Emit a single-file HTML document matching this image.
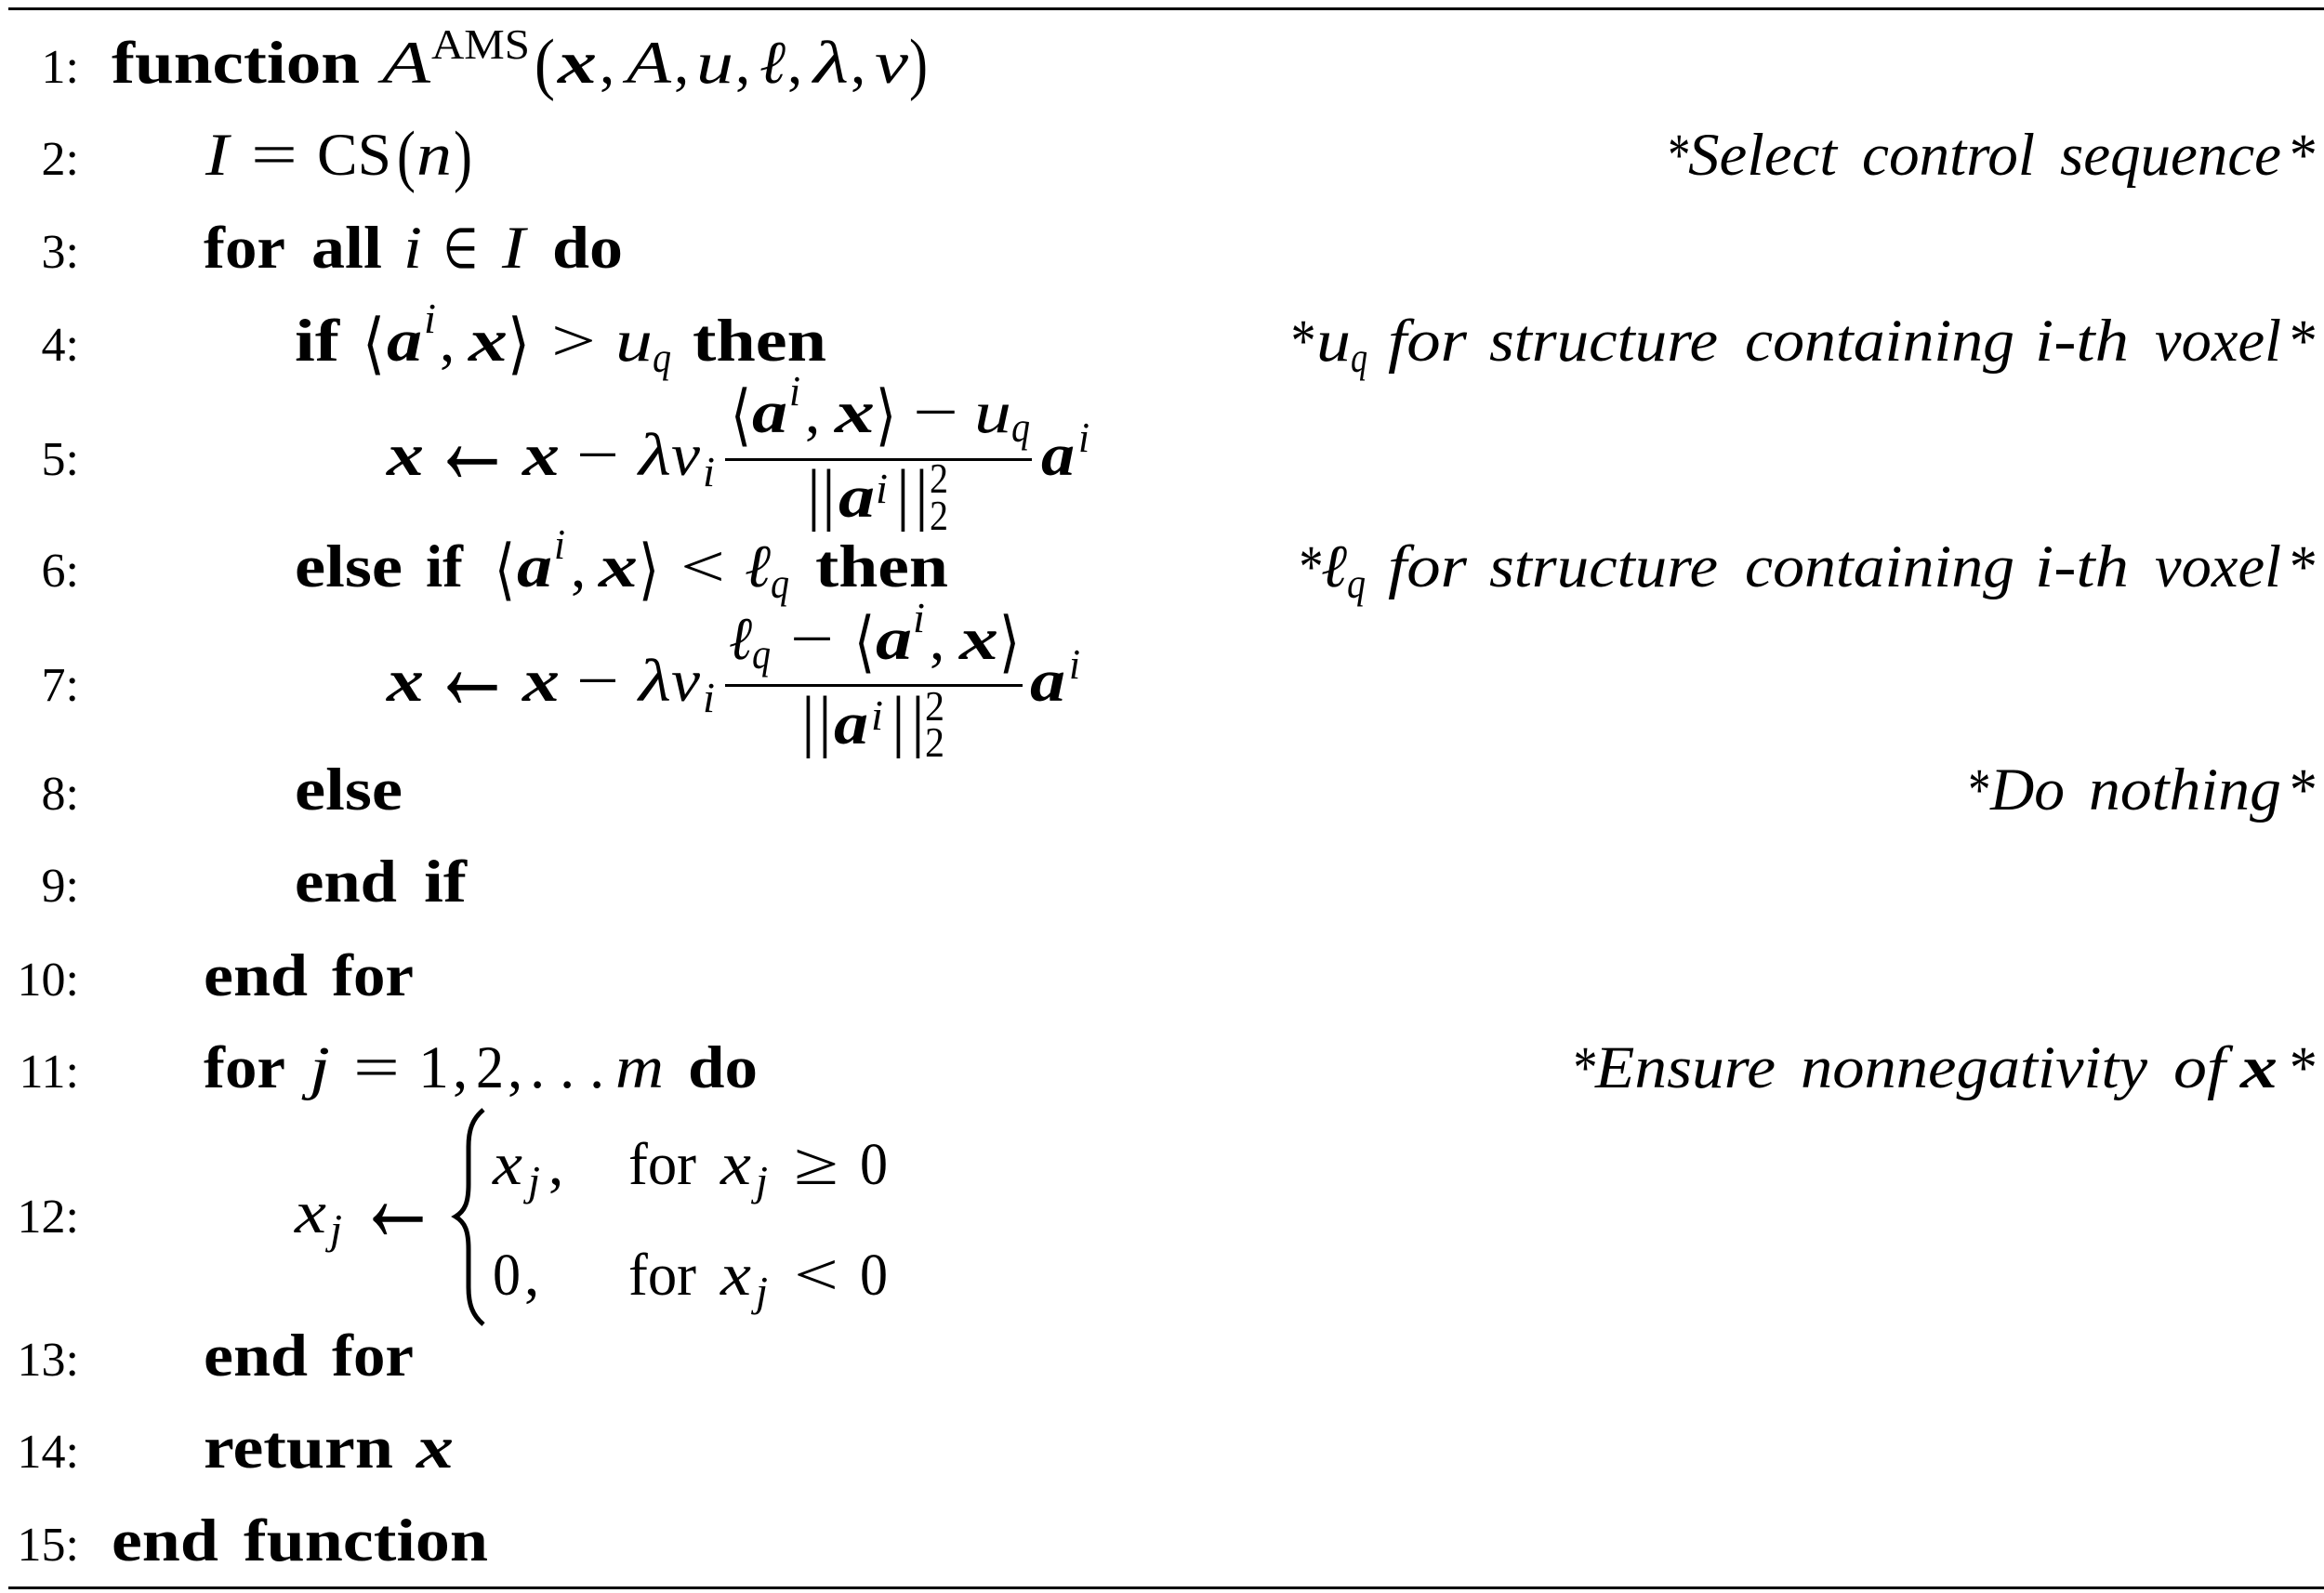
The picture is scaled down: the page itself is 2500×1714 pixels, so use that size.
<!DOCTYPE html>
<html><head><meta charset="utf-8"><style>
html,body{margin:0;padding:0;background:#fff}
svg{display:block}
text{font-family:"Liberation Serif","DejaVu Serif",serif;font-size:65px;fill:#000}
.b{font-weight:bold}.i{font-style:italic}.bi{font-weight:bold;font-style:italic}
.n{font-size:52px}.s{font-size:46px}.e{font-family:"DejaVu Sans",sans-serif;font-size:60px}
.a{font-family:"DejaVu Sans",sans-serif;font-size:72px}
.r{font-size:140px}
.v{font-size:74px}
</style></head><body>
<svg width="2500" height="1714" viewBox="0 0 2500 1714" xmlns="http://www.w3.org/2000/svg">
<rect width="2500" height="1714" fill="#fff"/>
<rect x="9" y="8" width="2491" height="3" fill="#000"/>
<rect x="9" y="1707" width="2491" height="3" fill="#000"/>

<!-- line numbers -->
<g text-anchor="end">
<text class="n" x="85" y="89">1:</text><text class="n" x="85" y="188">2:</text><text class="n" x="85" y="288">3:</text>
<text class="n" x="85" y="388">4:</text><text class="n" x="85" y="511">5:</text><text class="n" x="85" y="631">6:</text>
<text class="n" x="85" y="754">7:</text><text class="n" x="85" y="871">8:</text><text class="n" x="85" y="970">9:</text>
<text class="n" x="85" y="1071">10:</text><text class="n" x="85" y="1170">11:</text><text class="n" x="85" y="1326">12:</text>
<text class="n" x="85" y="1480">13:</text><text class="n" x="85" y="1579">14:</text><text class="n" x="85" y="1679">15:</text>
</g>

<!-- line 1 -->
<text class="b" x="120" y="89" textLength="267" lengthAdjust="spacingAndGlyphs">function</text>
<text class="i" x="411" y="89" textLength="52" lengthAdjust="spacingAndGlyphs">A</text>
<text class="s" x="464" y="63" textLength="106" lengthAdjust="spacingAndGlyphs">AMS</text>
<text class="v" x="575" y="93" textLength="22" lengthAdjust="spacingAndGlyphs">(</text>
<text class="bi" x="600" y="89" textLength="42" lengthAdjust="spacingAndGlyphs">x</text>
<text x="645" y="89">,</text>
<text class="i" x="674" y="89" textLength="48" lengthAdjust="spacingAndGlyphs">A</text>
<text x="725" y="89">,</text>
<text class="i" x="749" y="89" textLength="40" lengthAdjust="spacingAndGlyphs">u</text>
<text x="791" y="89">,</text>
<text class="i" x="817" y="89" textLength="28" lengthAdjust="spacingAndGlyphs">ℓ</text>
<text x="847" y="89">,</text>
<text class="i" x="875" y="89" textLength="38" lengthAdjust="spacingAndGlyphs">λ</text>
<text x="915" y="89">,</text>
<text class="i" x="941" y="89" textLength="36" lengthAdjust="spacingAndGlyphs">ν</text>
<text class="v" x="978" y="93" textLength="20" lengthAdjust="spacingAndGlyphs">)</text>

<!-- line 2 -->
<text class="i" x="221" y="188" textLength="25" lengthAdjust="spacingAndGlyphs">I</text>
<text x="270" y="188" textLength="50" lengthAdjust="spacingAndGlyphs">=</text>
<text x="341" y="188" textLength="80" lengthAdjust="spacingAndGlyphs">CS</text>
<text class="v" x="427" y="192" textLength="20" lengthAdjust="spacingAndGlyphs">(</text>
<text class="i" x="448" y="188" textLength="38" lengthAdjust="spacingAndGlyphs">n</text>
<text class="v" x="488" y="192" textLength="20" lengthAdjust="spacingAndGlyphs">)</text>
<text x="1792" y="188" class="i" textLength="24" lengthAdjust="spacingAndGlyphs">*</text>
<text class="i" x="1816" y="188" textLength="160" lengthAdjust="spacingAndGlyphs">Select</text>
<text class="i" x="2003" y="188" textLength="186" lengthAdjust="spacingAndGlyphs">control</text>
<text class="i" x="2216" y="188" textLength="238" lengthAdjust="spacingAndGlyphs">sequence</text>
<text class="i" x="2460" y="188" textLength="30" lengthAdjust="spacingAndGlyphs">*</text>

<!-- line 3 -->
<text class="b" x="219" y="288" textLength="88" lengthAdjust="spacingAndGlyphs">for</text>
<text class="b" x="335" y="288" textLength="76" lengthAdjust="spacingAndGlyphs">all</text>
<text class="i" x="434" y="288" textLength="20" lengthAdjust="spacingAndGlyphs">i</text>
<text class="e" x="477" y="288" textLength="37" lengthAdjust="spacingAndGlyphs">∈</text>
<text class="i" x="540" y="288" textLength="25" lengthAdjust="spacingAndGlyphs">I</text>
<text class="b" x="594" y="288" textLength="76" lengthAdjust="spacingAndGlyphs">do</text>

<!-- line 4 -->
<text class="b" x="317" y="388" textLength="48" lengthAdjust="spacingAndGlyphs">if</text>
<text class="a" x="390" y="394" textLength="24" lengthAdjust="spacingAndGlyphs">⟨</text>
<text class="bi" x="416" y="388" textLength="38" lengthAdjust="spacingAndGlyphs">a</text>
<text class="i s" x="456" y="358" textLength="13" lengthAdjust="spacingAndGlyphs">i</text>
<text x="473" y="388">,</text>
<text class="bi" x="504" y="388" textLength="42" lengthAdjust="spacingAndGlyphs">x</text>
<text class="a" x="546" y="394" textLength="24" lengthAdjust="spacingAndGlyphs">⟩</text>
<text x="593" y="388" textLength="48" lengthAdjust="spacingAndGlyphs">&gt;</text>
<text class="i" x="662" y="388" textLength="40" lengthAdjust="spacingAndGlyphs">u</text>
<text class="i s" x="702" y="400" textLength="20" lengthAdjust="spacingAndGlyphs">q</text>
<text class="b" x="745" y="388" textLength="144" lengthAdjust="spacingAndGlyphs">then</text>
<text class="i" x="1386" y="388" textLength="27" lengthAdjust="spacingAndGlyphs">*</text>
<text class="i" x="1416" y="388" textLength="37" lengthAdjust="spacingAndGlyphs">u</text>
<text class="i s" x="1453" y="400" textLength="18" lengthAdjust="spacingAndGlyphs">q</text>
<text class="i" x="1493" y="388" textLength="85" lengthAdjust="spacingAndGlyphs">for</text>
<text class="i" x="1602" y="388" textLength="246" lengthAdjust="spacingAndGlyphs">structure</text>
<text class="i" x="1877" y="388" textLength="290" lengthAdjust="spacingAndGlyphs">containing</text>
<text class="i" x="2189" y="388" textLength="101" lengthAdjust="spacingAndGlyphs">i-th</text>
<text class="i" x="2318" y="388" textLength="136" lengthAdjust="spacingAndGlyphs">voxel</text>
<text class="i" x="2460" y="388" textLength="30" lengthAdjust="spacingAndGlyphs">*</text>

<!-- line 5 -->
<text class="bi" x="416" y="511" textLength="40" lengthAdjust="spacingAndGlyphs">x</text>
<text class="r" x="463" y="520" textLength="90" lengthAdjust="spacingAndGlyphs">←</text>
<text class="bi" x="562" y="511" textLength="40" lengthAdjust="spacingAndGlyphs">x</text>
<text x="620" y="511" textLength="46" lengthAdjust="spacingAndGlyphs">−</text>
<text class="i" x="687" y="511" textLength="35" lengthAdjust="spacingAndGlyphs">λ</text>
<text class="i" x="722" y="511" textLength="31" lengthAdjust="spacingAndGlyphs">ν</text>
<text class="i s" x="756" y="523" textLength="13" lengthAdjust="spacingAndGlyphs">i</text>
<rect x="780" y="493" width="330" height="3" fill="#000"/>
<text class="a" x="786" y="471" textLength="22" lengthAdjust="spacingAndGlyphs">⟨</text>
<text class="bi" x="809" y="465" textLength="38" lengthAdjust="spacingAndGlyphs">a</text>
<text class="i s" x="849" y="436" textLength="12" lengthAdjust="spacingAndGlyphs">i</text>
<text x="866" y="465">,</text>
<text class="bi" x="898" y="465" textLength="43" lengthAdjust="spacingAndGlyphs">x</text>
<text class="a" x="942" y="471" textLength="22" lengthAdjust="spacingAndGlyphs">⟩</text>
<text x="982" y="465" textLength="49" lengthAdjust="spacingAndGlyphs">−</text>
<text class="i" x="1048" y="465" textLength="40" lengthAdjust="spacingAndGlyphs">u</text>
<text class="i s" x="1088" y="475" textLength="20" lengthAdjust="spacingAndGlyphs">q</text>
<text class="v" x="868" y="556">|</text>
<text class="v" x="884" y="556">|</text>
<text class="bi" x="902" y="556" textLength="39" lengthAdjust="spacingAndGlyphs">a</text>
<text class="i s" x="942" y="541" textLength="13" lengthAdjust="spacingAndGlyphs">i</text>
<text class="v" x="964" y="556">|</text>
<text class="v" x="984" y="556">|</text>
<text class="s" x="1000" y="530" textLength="20" lengthAdjust="spacingAndGlyphs">2</text>
<text class="s" x="1000" y="570" textLength="20" lengthAdjust="spacingAndGlyphs">2</text>
<text class="bi" x="1120" y="511" textLength="36" lengthAdjust="spacingAndGlyphs">a</text>
<text class="i s" x="1160" y="486" textLength="12" lengthAdjust="spacingAndGlyphs">i</text>

<!-- line 6 -->
<text class="b" x="317" y="631" textLength="116" lengthAdjust="spacingAndGlyphs">else</text>
<text class="b" x="458" y="631" textLength="40" lengthAdjust="spacingAndGlyphs">if</text>
<text class="a" x="532" y="637" textLength="22" lengthAdjust="spacingAndGlyphs">⟨</text>
<text class="bi" x="556" y="631" textLength="38" lengthAdjust="spacingAndGlyphs">a</text>
<text class="i s" x="596" y="601" textLength="12" lengthAdjust="spacingAndGlyphs">i</text>
<text x="614" y="631">,</text>
<text class="bi" x="644" y="631" textLength="42" lengthAdjust="spacingAndGlyphs">x</text>
<text class="a" x="687" y="637" textLength="22" lengthAdjust="spacingAndGlyphs">⟩</text>
<text x="732" y="631" textLength="48" lengthAdjust="spacingAndGlyphs">&lt;</text>
<text class="i" x="801" y="631" textLength="28" lengthAdjust="spacingAndGlyphs">ℓ</text>
<text class="i s" x="829" y="643" textLength="20" lengthAdjust="spacingAndGlyphs">q</text>
<text class="b" x="877" y="631" textLength="143" lengthAdjust="spacingAndGlyphs">then</text>
<text class="i" x="1395" y="631" textLength="26" lengthAdjust="spacingAndGlyphs">*</text>
<text class="i" x="1421" y="631" textLength="28" lengthAdjust="spacingAndGlyphs">ℓ</text>
<text class="i s" x="1449" y="643" textLength="20" lengthAdjust="spacingAndGlyphs">q</text>
<text class="i" x="1493" y="631" textLength="85" lengthAdjust="spacingAndGlyphs">for</text>
<text class="i" x="1602" y="631" textLength="246" lengthAdjust="spacingAndGlyphs">structure</text>
<text class="i" x="1877" y="631" textLength="290" lengthAdjust="spacingAndGlyphs">containing</text>
<text class="i" x="2189" y="631" textLength="101" lengthAdjust="spacingAndGlyphs">i-th</text>
<text class="i" x="2318" y="631" textLength="136" lengthAdjust="spacingAndGlyphs">voxel</text>
<text class="i" x="2460" y="631" textLength="30" lengthAdjust="spacingAndGlyphs">*</text>

<!-- line 7 -->
<text class="bi" x="416" y="754" textLength="40" lengthAdjust="spacingAndGlyphs">x</text>
<text class="r" x="463" y="763" textLength="90" lengthAdjust="spacingAndGlyphs">←</text>
<text class="bi" x="562" y="754" textLength="40" lengthAdjust="spacingAndGlyphs">x</text>
<text x="620" y="754" textLength="46" lengthAdjust="spacingAndGlyphs">−</text>
<text class="i" x="687" y="754" textLength="35" lengthAdjust="spacingAndGlyphs">λ</text>
<text class="i" x="722" y="754" textLength="31" lengthAdjust="spacingAndGlyphs">ν</text>
<text class="i s" x="756" y="766" textLength="13" lengthAdjust="spacingAndGlyphs">i</text>
<rect x="780" y="736" width="320" height="3" fill="#000"/>
<text class="i" x="784" y="709" textLength="25" lengthAdjust="spacingAndGlyphs">ℓ</text>
<text class="i s" x="809" y="719" textLength="20" lengthAdjust="spacingAndGlyphs">q</text>
<text x="850" y="709" textLength="47" lengthAdjust="spacingAndGlyphs">−</text>
<text class="a" x="919" y="715" textLength="22" lengthAdjust="spacingAndGlyphs">⟨</text>
<text class="bi" x="942" y="709" textLength="39" lengthAdjust="spacingAndGlyphs">a</text>
<text class="i s" x="982" y="680" textLength="13" lengthAdjust="spacingAndGlyphs">i</text>
<text x="1000" y="709">,</text>
<text class="bi" x="1032" y="709" textLength="42" lengthAdjust="spacingAndGlyphs">x</text>
<text class="a" x="1075" y="715" textLength="22" lengthAdjust="spacingAndGlyphs">⟩</text>
<text class="v" x="862" y="800">|</text>
<text class="v" x="880" y="800">|</text>
<text class="bi" x="897" y="800" textLength="37" lengthAdjust="spacingAndGlyphs">a</text>
<text class="i s" x="937" y="785" textLength="13" lengthAdjust="spacingAndGlyphs">i</text>
<text class="v" x="959" y="800">|</text>
<text class="v" x="980" y="800">|</text>
<text class="s" x="995" y="775" textLength="21" lengthAdjust="spacingAndGlyphs">2</text>
<text class="s" x="995" y="814" textLength="21" lengthAdjust="spacingAndGlyphs">2</text>
<text class="bi" x="1108" y="754" textLength="38" lengthAdjust="spacingAndGlyphs">a</text>
<text class="i s" x="1150" y="730" textLength="12" lengthAdjust="spacingAndGlyphs">i</text>

<!-- line 8 -->
<text class="b" x="317" y="871" textLength="116" lengthAdjust="spacingAndGlyphs">else</text>
<text class="i" x="2115" y="871" textLength="24" lengthAdjust="spacingAndGlyphs">*</text>
<text class="i" x="2141" y="871" textLength="80" lengthAdjust="spacingAndGlyphs">Do</text>
<text class="i" x="2247" y="871" textLength="207" lengthAdjust="spacingAndGlyphs">nothing</text>
<text class="i" x="2460" y="871" textLength="30" lengthAdjust="spacingAndGlyphs">*</text>

<!-- line 9, 10 -->
<text class="b" x="317" y="970" textLength="110" lengthAdjust="spacingAndGlyphs">end</text>
<text class="b" x="456" y="970" textLength="46" lengthAdjust="spacingAndGlyphs">if</text>
<text class="b" x="219" y="1071" textLength="112" lengthAdjust="spacingAndGlyphs">end</text>
<text class="b" x="357" y="1071" textLength="88" lengthAdjust="spacingAndGlyphs">for</text>

<!-- line 11 -->
<text class="b" x="219" y="1170" textLength="88" lengthAdjust="spacingAndGlyphs">for</text>
<text class="i" x="333" y="1170" textLength="22" lengthAdjust="spacingAndGlyphs">j</text>
<text x="380" y="1170" textLength="50" lengthAdjust="spacingAndGlyphs">=</text>
<text x="450" y="1170" textLength="33" lengthAdjust="spacingAndGlyphs">1</text>
<text x="487" y="1170">,</text>
<text x="512" y="1170" textLength="30" lengthAdjust="spacingAndGlyphs">2</text>
<text x="546" y="1170">,</text>
<text x="570" y="1170">.</text>
<text x="602" y="1170">.</text>
<text x="634" y="1170">.</text>
<text class="i" x="662" y="1170" textLength="52" lengthAdjust="spacingAndGlyphs">m</text>
<text class="b" x="740" y="1170" textLength="75" lengthAdjust="spacingAndGlyphs">do</text>
<text class="i" x="1690" y="1170" textLength="26" lengthAdjust="spacingAndGlyphs">*</text>
<text class="i" x="1716" y="1170" textLength="194" lengthAdjust="spacingAndGlyphs">Ensure</text>
<text class="i" x="1937" y="1170" textLength="373" lengthAdjust="spacingAndGlyphs">nonnegativity</text>
<text class="i" x="2338" y="1170" textLength="56" lengthAdjust="spacingAndGlyphs">of</text>
<text class="bi" x="2410" y="1170" textLength="40" lengthAdjust="spacingAndGlyphs">x</text>
<text class="i" x="2460" y="1170" textLength="30" lengthAdjust="spacingAndGlyphs">*</text>

<!-- line 12 -->
<text class="i" x="317" y="1326" textLength="34" lengthAdjust="spacingAndGlyphs">x</text>
<text class="i s" x="355" y="1338" textLength="13" lengthAdjust="spacingAndGlyphs">j</text>
<text class="r" x="383" y="1335" textLength="90" lengthAdjust="spacingAndGlyphs">←</text>
<path d="M520 1194 C508 1204 504 1216 504 1234 L504 1274 C504 1294 500 1303 490 1309 C500 1315 504 1324 504 1344 L504 1385 C504 1403 508 1415 520 1425" fill="none" stroke="#000" stroke-width="5"/>
<text class="i" x="530" y="1274" textLength="32" lengthAdjust="spacingAndGlyphs">x</text>
<text class="i s" x="568" y="1286" textLength="13" lengthAdjust="spacingAndGlyphs">j</text>
<text x="590" y="1274">,</text>
<text x="676" y="1274" textLength="73" lengthAdjust="spacingAndGlyphs">for</text>
<text class="i" x="775" y="1274" textLength="33" lengthAdjust="spacingAndGlyphs">x</text>
<text class="i s" x="813" y="1286" textLength="13" lengthAdjust="spacingAndGlyphs">j</text>
<text x="854" y="1274" textLength="48" lengthAdjust="spacingAndGlyphs">≥</text>
<text x="925" y="1274" textLength="30" lengthAdjust="spacingAndGlyphs">0</text>
<text x="530" y="1393" textLength="30" lengthAdjust="spacingAndGlyphs">0</text>
<text x="564" y="1393">,</text>
<text x="676" y="1393" textLength="73" lengthAdjust="spacingAndGlyphs">for</text>
<text class="i" x="775" y="1393" textLength="33" lengthAdjust="spacingAndGlyphs">x</text>
<text class="i s" x="813" y="1405" textLength="13" lengthAdjust="spacingAndGlyphs">j</text>
<text x="854" y="1393" textLength="48" lengthAdjust="spacingAndGlyphs">&lt;</text>
<text x="925" y="1393" textLength="30" lengthAdjust="spacingAndGlyphs">0</text>

<!-- line 13-15 -->
<text class="b" x="219" y="1480" textLength="112" lengthAdjust="spacingAndGlyphs">end</text>
<text class="b" x="357" y="1480" textLength="88" lengthAdjust="spacingAndGlyphs">for</text>
<text class="b" x="219" y="1579" textLength="204" lengthAdjust="spacingAndGlyphs">return</text>
<text class="bi" x="448" y="1579" textLength="40" lengthAdjust="spacingAndGlyphs">x</text>
<text class="b" x="120" y="1679" textLength="115" lengthAdjust="spacingAndGlyphs">end</text>
<text class="b" x="262" y="1679" textLength="263" lengthAdjust="spacingAndGlyphs">function</text>
</svg>
</body></html>
